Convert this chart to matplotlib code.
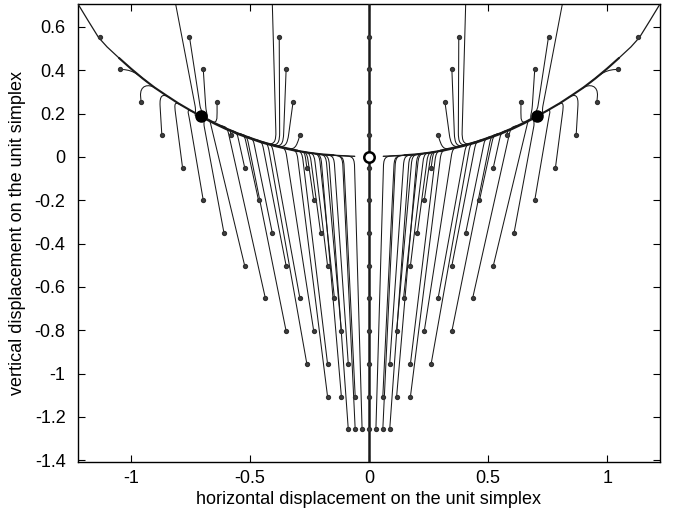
import numpy as np
import matplotlib.pyplot as plt
from matplotlib.path import Path
from matplotlib.patches import PathPatch

plt.rcParams['font.family'] = ['Liberation Sans', 'DejaVu Sans']
plt.rcParams['axes.unicode_minus'] = False

# rows of starting points: height of the row and spacing of the points on it
row_y = [0.706, 0.555, 0.404, 0.253, 0.102, -0.049, -0.200, -0.351, -0.502,
         -0.653, -0.804, -0.955, -1.106, -1.257]
row_step = [0.406, 0.377, 0.348, 0.319, 0.290, 0.261, 0.232, 0.203, 0.174,
            0.145, 0.116, 0.087, 0.058, 0.029]

# slow curve, read on the left half (|x|, y)
man_u = [0.06, 0.10, 0.15, 0.20, 0.25, 0.30, 0.35, 0.40, 0.45, 0.50, 0.55,
         0.60, 0.65, 0.706, 0.75, 0.80, 0.85, 0.90, 0.95, 1.00, 1.05, 1.10,
         1.136, 1.18, 1.222]
man_y = [0.003, 0.005, 0.008, 0.012, 0.019, 0.028, 0.040, 0.053, 0.068,
         0.087, 0.107, 0.130, 0.156, 0.188, 0.215, 0.247, 0.283, 0.320,
         0.362, 0.408, 0.457, 0.508, 0.552, 0.630, 0.706]

node_u = 0.706
node_y = 0.188

# trajectories (left half, mirrored to the right):
# row, point number from the centre, |x| where it turns, lift of the turn, |x| where it joins
traj_row = [0, 1, 2, 3, 4,
            0, 1, 2, 3,
            2, 3, 4, 5, 6, 7, 8, 9, 10, 11, 12, 13,
            4, 5, 6, 7, 8, 9, 10, 11, 12, 13,
            5, 6, 7, 8, 9, 10, 11, 12, 13]
traj_k = [1, 1, 1, 1, 1,
          2, 2, 2, 2,
          3, 3, 3, 3, 3, 3, 3, 3, 3, 3, 3, 3,
          2, 2, 2, 2, 2, 2, 2, 2, 2, 2,
          1, 1, 1, 1, 1, 1, 1, 1, 1]
traj_turn = [0.39, 0.375, 0.36, 0.343, 0.305,
             0.722, 0.703, 0.683, 0.638,
             0.985, 0.963, 0.88, 0.818, 0.76, 0.70, 0.672, 0.599, 0.516, 0.428, 0.305, 0.17,
             0.585, 0.558, 0.526, 0.49, 0.452, 0.41, 0.353, 0.283, 0.203, 0.112,
             0.271, 0.262, 0.249, 0.232, 0.21, 0.182, 0.148, 0.107, 0.062]
traj_lift = [0.008, 0.008, 0.008, 0.008, 0.006,
             0.0, 0.0, 0.004, 0.005,
             0.056, 0.014, 0.012, 0.01, 0.008, 0.0, 0.0, 0.0, 0.0, 0.0, 0.0, 0.0,
             0.0, 0.0, 0.0, 0.0, 0.0, 0.0, 0.0, 0.0, 0.0, 0.0,
             0.0, 0.0, 0.0, 0.0, 0.0, 0.0, 0.0, 0.0, 0.0]
traj_join = [0.435, 0.42, 0.405, 0.39, 0.35,
             0.706, 0.706, 0.70, 0.67,
             0.93, 0.895, 0.835, 0.785, 0.735, 0.706, 0.70, 0.645, 0.565, 0.48, 0.36, 0.225,
             0.61, 0.60, 0.57, 0.535, 0.50, 0.46, 0.405, 0.335, 0.255, 0.165,
             0.31, 0.305, 0.295, 0.28, 0.26, 0.235, 0.20, 0.16, 0.115]

xticks = [-1, -0.5, 0, 0.5, 1]
xtick_labels = ['-1', '-0.5', '0', '0.5', '1']
yticks = [0.6, 0.4, 0.2, 0, -0.2, -0.4, -0.6, -0.8, -1, -1.2, -1.4]
ytick_labels = ['0.6', '0.4', '0.2', '0', '-0.2', '-0.4', '-0.6', '-0.8', '-1', '-1.2', '-1.4']

fig = plt.figure(figsize=(6.74, 5.22), dpi=100)
ax = fig.add_axes([78 / 674, 1 - 462 / 522, 582 / 674, 458 / 522])
ax.set_xlim(-1.222, 1.222)
ax.set_ylim(-1.408, 0.706)

col = '#1a1a1a'


def ym(u):
    return np.interp(u, man_u, man_y)


r = 0.05
for row, k, ut, lift, uj in zip(traj_row, traj_k, traj_turn, traj_lift, traj_join):
    p0 = np.array([k * row_step[row], row_y[row]])
    e = np.array([uj, ym(uj)])
    d = np.array([ut, e[1] + lift])
    if abs(uj - node_u) < 1e-3:
        t = e - d
    else:
        s = (ym(uj + 0.01) - ym(uj - 0.01)) / 0.02
        t = np.array([1.0, s]) * (1 if uj < node_u else -1)
    t = t / (np.hypot(*t) + 1e-9)
    dist = np.hypot(*(p0 - d))
    a = d + (p0 - d) * min(0.85, r / (dist + 1e-9))
    c2 = e - t * r * 0.8
    for side in (-1, 1):
        verts = [p0, a, d, c2, e]
        verts = [(side * v[0], v[1]) for v in verts]
        codes = [Path.MOVETO, Path.LINETO, Path.CURVE4, Path.CURVE4, Path.CURVE4]
        ax.add_patch(PathPatch(Path(verts, codes), fill=False, lw=0.75, ec=col, zorder=2))

# slow curve, thicker where many trajectories run together
mu = np.array(man_u)
my = np.array(man_y)
parts = [(0.0, 0.16, 1.0), (0.14, 0.31, 1.5), (0.29, 0.71, 1.9), (0.70, 1.06, 1.5), (1.04, 1.3, 0.9)]
for lo, hi, lw in parts:
    m = (mu >= lo) & (mu <= hi)
    ax.plot(-mu[m], my[m], color=col, lw=lw, zorder=3, solid_capstyle='round')
    ax.plot(mu[m], my[m], color=col, lw=lw, zorder=3, solid_capstyle='round')

# invariant vertical line
ax.plot([0, 0], [-1.408, 0.706], color=col, lw=1.8, zorder=3)

# starting points
for y, st in zip(row_y[1:], row_step[1:]):
    xs = [k * st for k in range(-3, 4)]
    ax.plot(xs, [y] * len(xs), 'o', ms=2.8, color='#404040', mec='#303030', zorder=4)

# equilibria
ax.plot([-node_u, node_u], [node_y, node_y], 'o', ms=8, color='black', zorder=5)
ax.plot(0, 0, 'o', ms=7.5, mfc='white', mec='black', mew=1.8, zorder=5)

ax.set_xticks(xticks)
ax.set_xticklabels(xtick_labels)
ax.set_yticks(yticks)
ax.set_yticklabels(ytick_labels)
ax.tick_params(direction='in', top=True, right=True, length=5, width=0.8, labelsize=13)
ax.tick_params(axis='y', pad=9)
ax.tick_params(axis='x', pad=6)
for sp in ax.spines.values():
    sp.set_linewidth(1.0)
ax.set_xlabel('horizontal displacement on the unit simplex', fontsize=13, labelpad=3)
ax.set_ylabel('vertical displacement on the unit simplex', fontsize=13, labelpad=6)

fig.savefig('out.png', dpi=100)
